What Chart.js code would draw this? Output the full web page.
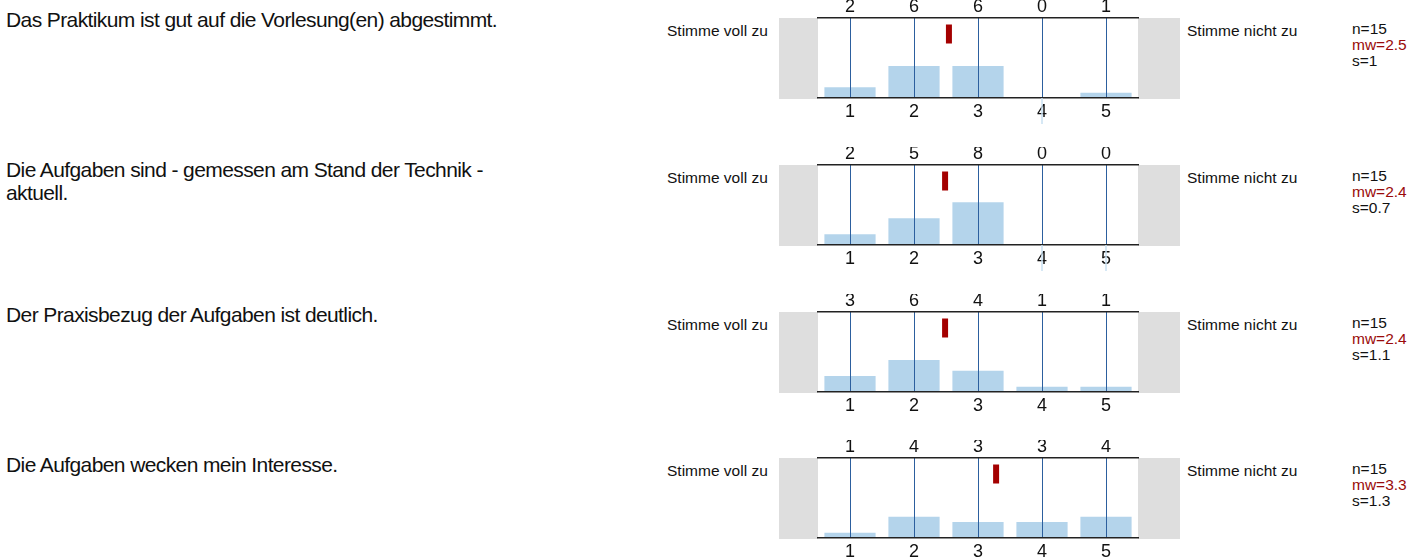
<!DOCTYPE html>
<html>
<head>
<meta charset="utf-8">
<script src="https://cdn.jsdelivr.net/npm/chart.js@4.4.1/dist/chart.umd.min.js"></script>
<style>
  html, body { margin: 0; padding: 0; background: #fff; }
  #page { position: relative; width: 1427px; height: 558px; overflow: hidden;
          font-family: "Liberation Sans", Arial, sans-serif; color: #111; }
  .question { position: absolute; left: 6px; width: 500px; font-size: 21px; line-height: 22.3px; letter-spacing: -0.6px; }
  .side { position: absolute; font-size: 15.5px; line-height: 16px; white-space: nowrap; }
  .stats { position: absolute; left: 1352px; font-size: 15.5px; line-height: 16px; white-space: nowrap; }
  .stats .mw { color: #9a0a0a; }
  canvas { position: absolute; left: 779px; }
</style>
</head>
<body>
<div id="page"></div>
<script>
    const questions = [
        'Das Praktikum ist gut auf die Vorlesung(en) abgestimmt.',
        'Die Aufgaben sind - gemessen am Stand der Technik - aktuell.',
        'Der Praxisbezug der Aufgaben ist deutlich.',
        'Die Aufgaben wecken mein Interesse.'
    ];
    const categories = ['1', '2', '3', '4', '5'];
    const countsPraktikum = [2, 6, 6, 0, 1];
    const countsAktuell = [2, 5, 8, 0, 0];
    const countsPraxis = [3, 6, 4, 1, 1];
    const countsInteresse = [1, 4, 3, 3, 4];
    const nValues = [15, 15, 15, 15];
    const meanValues = [2.47, 2.4, 2.4, 3.33];
    const meanLabels = ['2.5', '2.4', '2.4', '3.3'];
    const sdLabels = ['1', '0.7', '1.1', '1.3'];
    const leftLabel = 'Stimme voll zu';
    const rightLabel = 'Stimme nicht zu';

    const allCounts = [countsPraktikum, countsAktuell, countsPraxis, countsInteresse];
    const canvasTops = [0, 147, 294, 440];
    const questionTops = [9.3, 159.3, 304.3, 454.3];
    const font = '"Liberation Sans", Arial, sans-serif';

    // grey boxes at both ends + faint stubs under empty categories
    const frame = {
        id: 'frame',
        beforeDatasetsDraw(chart) {
            const { ctx, chartArea: a, width } = chart;
            ctx.save();
            ctx.fillStyle = '#dedede';
            ctx.fillRect(0, a.top, a.left, a.bottom - a.top + 1);
            ctx.fillRect(a.right, a.top, width - a.right, a.bottom - a.top + 1);
            ctx.restore();
        },
        afterDraw(chart) {
            const { ctx, chartArea: a } = chart;
            const xs = chart.scales.x;
            ctx.save();
            ctx.strokeStyle = '#c8e0f2';
            ctx.lineWidth = 1.5;
            chart.data.datasets[0].data.forEach((v, i) => {
                if (v === 0) {
                    const px = xs.getPixelForValue(i);
                    ctx.beginPath();
                    ctx.moveTo(px, a.bottom);
                    ctx.lineTo(px, a.bottom + 26);
                    ctx.stroke();
                }
            });
            ctx.restore();
        }
    };

    const page = document.getElementById('page');

    allCounts.forEach((counts, i) => {
        const top = canvasTops[i];
        const panelTop = top + 18;

        const q = document.createElement('div');
        q.className = 'question';
        q.style.top = questionTops[i] + 'px';
        q.textContent = questions[i];
        page.appendChild(q);

        const l = document.createElement('div');
        l.className = 'side';
        l.style.left = '667px';
        l.style.top = (panelTop + 4.5) + 'px';
        l.textContent = leftLabel;
        page.appendChild(l);

        const r = document.createElement('div');
        r.className = 'side';
        r.style.left = '1187px';
        r.style.top = (panelTop + 4.5) + 'px';
        r.textContent = rightLabel;
        page.appendChild(r);

        const s = document.createElement('div');
        s.className = 'stats';
        s.style.top = (panelTop + 3.2) + 'px';
        s.innerHTML = 'n=' + nValues[i] + '<br><span class="mw">mw=' + meanLabels[i] + '</span><br>s=' + sdLabels[i];
        page.appendChild(s);

        const canvas = document.createElement('canvas');
        canvas.width = 401;
        canvas.height = 140;
        canvas.style.top = top + 'px';
        page.appendChild(canvas);

        new Chart(canvas.getContext('2d'), {
            type: 'bar',
            data: {
                labels: categories,
                datasets: [{
                    data: counts,
                    backgroundColor: '#b4d4eb',
                    borderWidth: 0,
                    grouped: false,
                    barPercentage: 0.8,
                    categoryPercentage: 1.0
                }, {
                    type: 'scatter',
                    data: [{ x: meanValues[i], y: nValues[i] * 0.8 }],
                    xAxisID: 'xm',
                    pointStyle: 'line',
                    rotation: 90,
                    radius: 9.5,
                    borderWidth: 6,
                    borderColor: '#a40000'
                }]
            },
            options: {
                responsive: false,
                animation: false,
                events: [],
                layout: { padding: { left: 39, right: 42, top: 0, bottom: 0 } },
                plugins: { legend: { display: false }, tooltip: { enabled: false } },
                scales: {
                    x: {
                        type: 'category',
                        position: 'bottom',
                        offset: true,
                        grid: { offset: false, color: '#2c5f9e', lineWidth: 1, drawTicks: false, z: 1 },
                        border: { display: true, color: '#222', width: 1.5, z: 2 },
                        ticks: { padding: 3, color: '#111', font: { family: font, size: 18 } },
                        afterFit(scale) { scale.height = 42; }
                    },
                    x2: {
                        type: 'category',
                        position: 'top',
                        offset: true,
                        labels: counts.map(String),
                        grid: { display: false, drawTicks: false },
                        border: { display: true, color: '#222', width: 1.5, z: 2 },
                        ticks: { padding: 0, color: '#111', font: { family: font, size: 18 } },
                        afterFit(scale) { scale.height = 18; }
                    },
                    xm: { type: 'linear', display: false, min: 0.5, max: 5.5 },
                    y: { display: false, min: 0, max: nValues[i] }
                }
            },
            plugins: [frame]
        });
    });
</script>
</body>
</html>
